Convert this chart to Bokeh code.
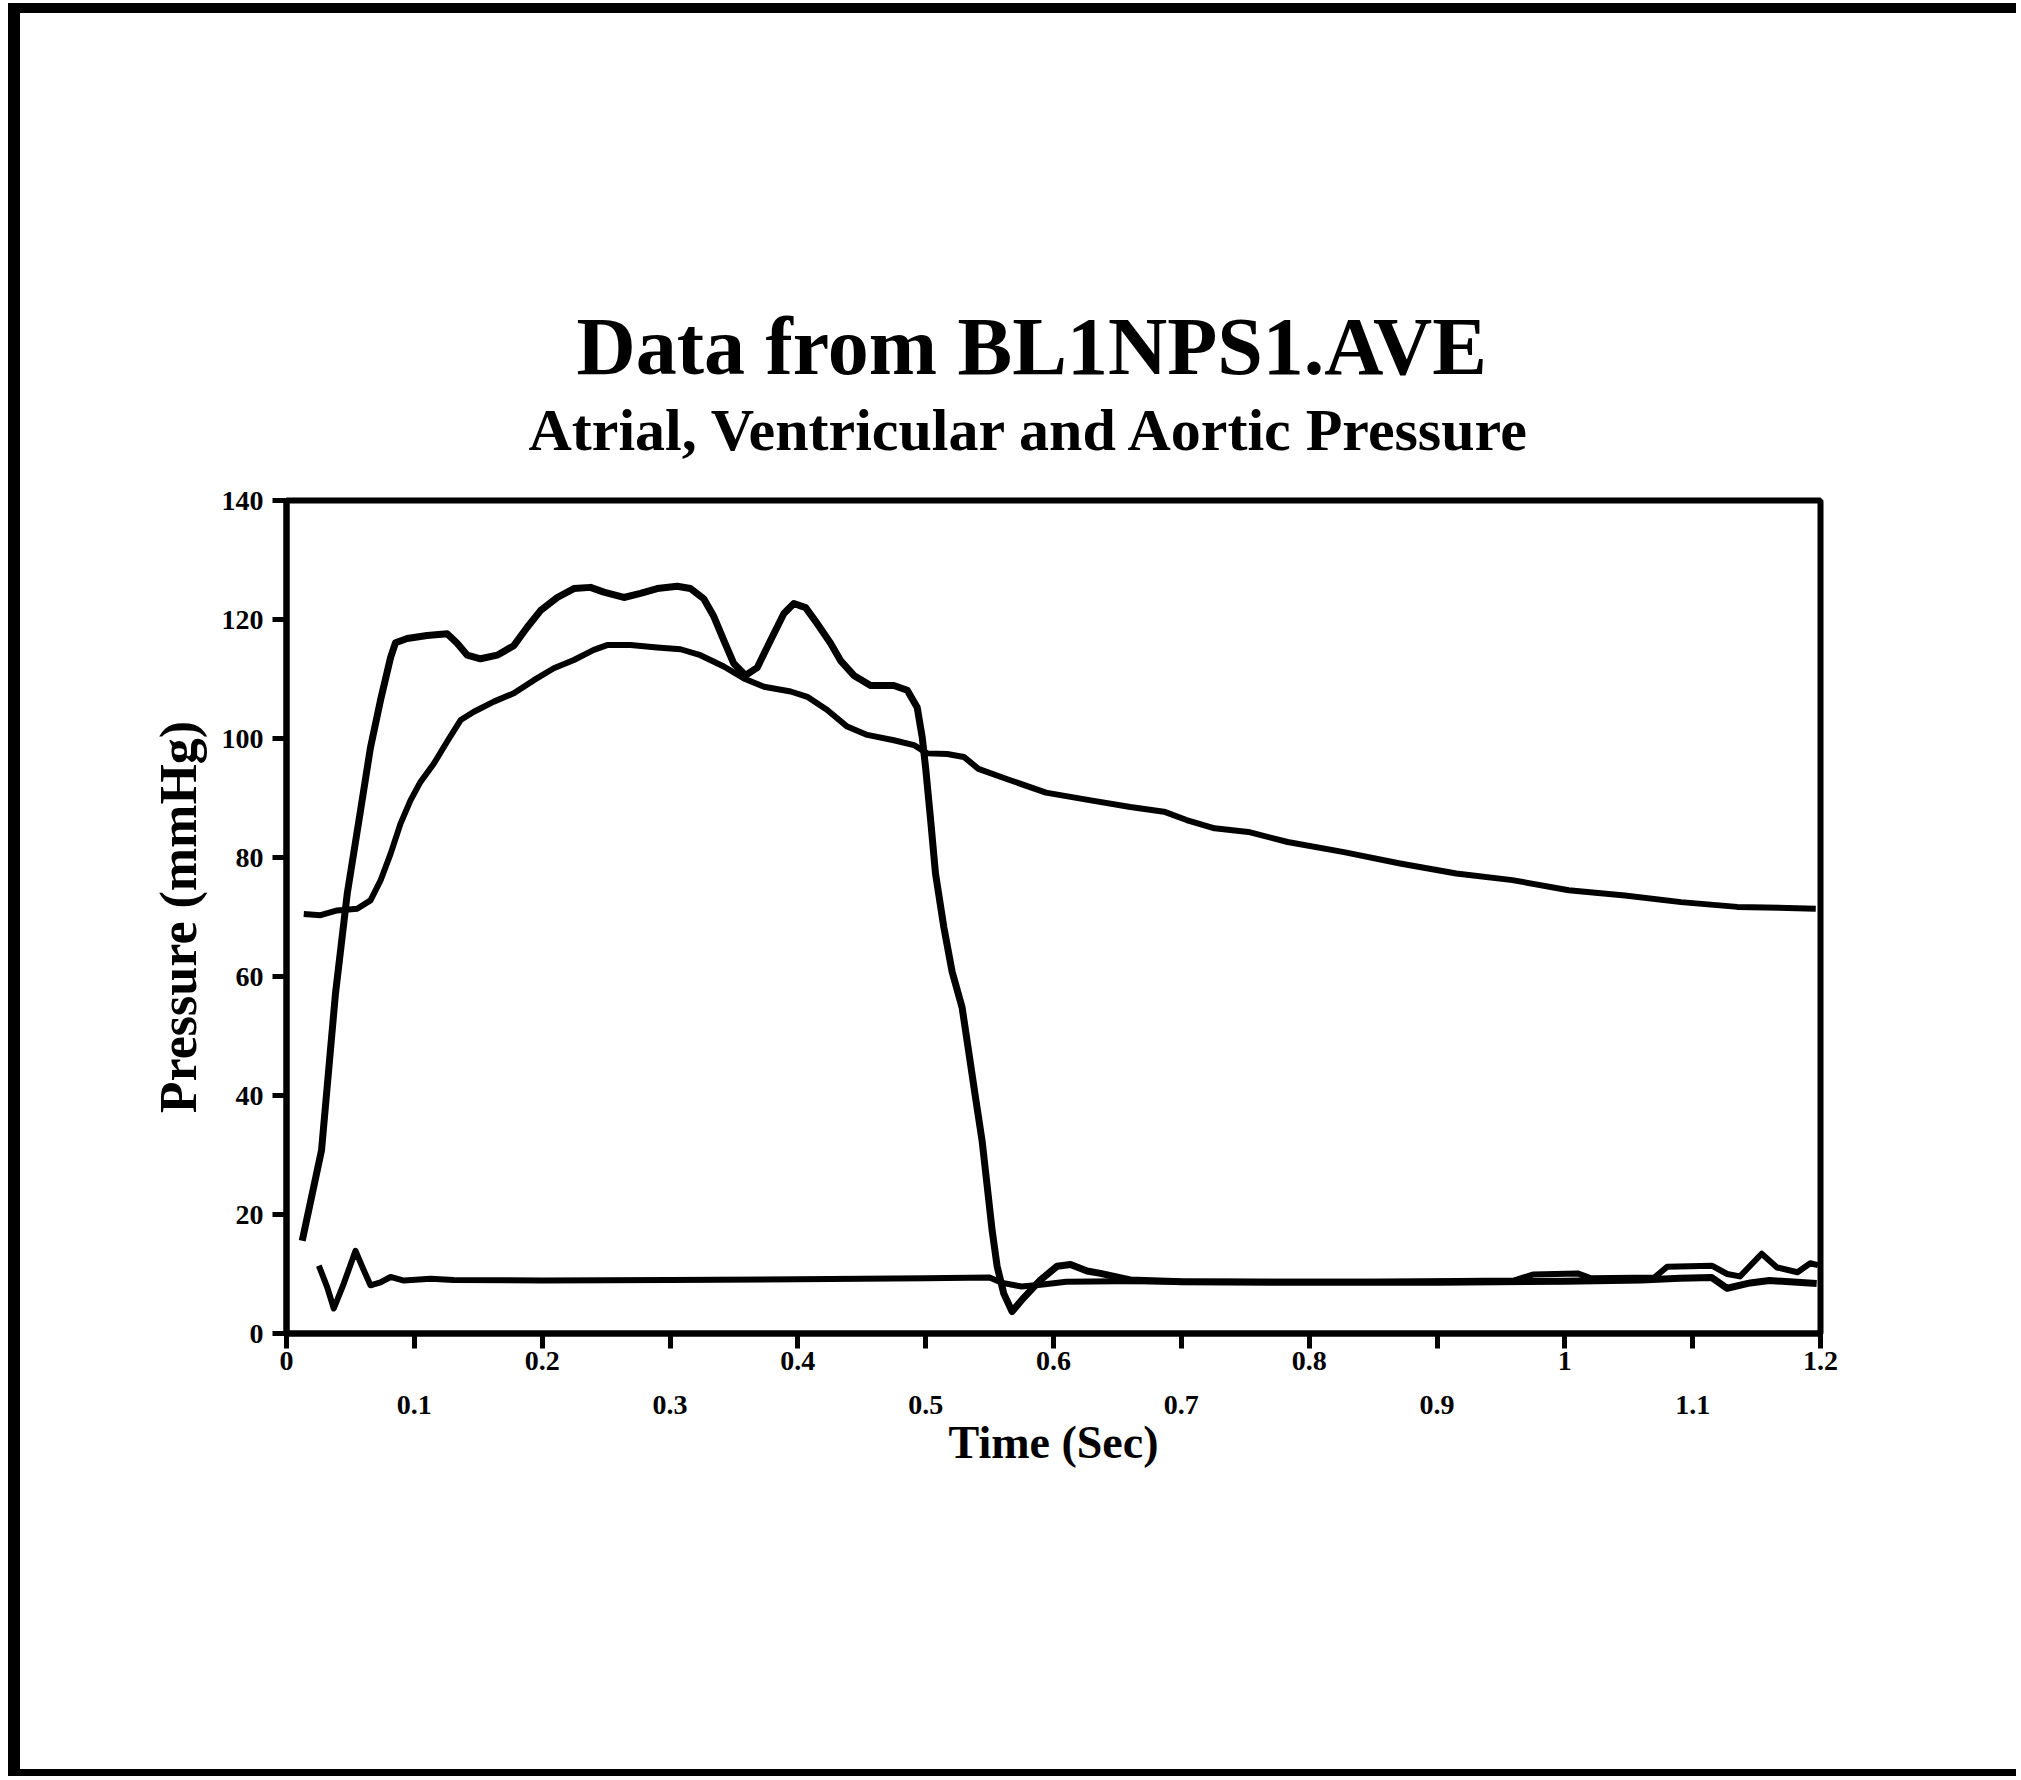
from bokeh.plotting import figure
from bokeh.layouts import column
from bokeh.models import LinearAxis, FixedTicker, Title, Range1d
from bokeh.embed import file_html
from bokeh.resources import INLINE

# ---------------- data ----------------
ventricular_time = [0.0123, 0.0274, 0.0383, 0.0475, 0.0579, 0.0657, 0.0735, 0.0814, 0.0853, 0.0944,
                    0.110, 0.1257, 0.1335, 0.1414, 0.1518, 0.1648, 0.1778, 0.1883, 0.1987, 0.2118,
                    0.2248, 0.2378, 0.2482, 0.2639, 0.2769, 0.2900, 0.3056, 0.3160, 0.3264, 0.3343,
                    0.3421, 0.3499, 0.3591, 0.3682, 0.3787, 0.3891, 0.3969, 0.4061, 0.4152, 0.4256,
                    0.4334, 0.4438, 0.4569, 0.4751, 0.4856, 0.4934, 0.4973, 0.5000, 0.5038, 0.5077,
                    0.5142, 0.5207, 0.5285, 0.5337, 0.5389, 0.5442, 0.5481, 0.5520, 0.5559, 0.5611,
                    0.5676, 0.5767, 0.5898, 0.6028, 0.6133, 0.6263, 0.6367, 0.66, 0.70, 0.80,
                    0.90, 1.00, 1.06, 1.09, 1.115, 1.127, 1.145, 1.16, 1.197]
ventricular_pressure = [15.6, 30.8, 57.1, 73.9, 87.9, 98.5, 106.4, 113.6, 116.1, 116.8,
                        117.3, 117.6, 116.0, 114.0, 113.4, 114.0, 115.6, 118.7, 121.5, 123.7,
                        125.2, 125.4, 124.6, 123.7, 124.4, 125.2, 125.6, 125.2, 123.5, 120.5,
                        116.5, 112.6, 110.6, 111.9, 116.5, 121.0, 122.7, 122.0, 119.3, 116.0,
                        113.1, 110.6, 108.9, 108.9, 108.1, 105.2, 100.2, 95.0, 86.5, 77.3,
                        68.3, 60.8, 54.8, 47.3, 39.8, 32.3, 24.8, 17.3, 11.3, 6.7,
                        3.7, 6.0, 9.0, 11.3, 11.6, 10.5, 10.1, 9.0, 8.7, 8.6,
                        8.6, 8.8, 9.0, 9.3, 9.4, 7.6, 8.5, 8.9, 8.4]

atrial_time = [0.0253, 0.0318, 0.0370, 0.0448, 0.0540, 0.0605, 0.0657, 0.0735, 0.0814, 0.0918,
               0.1127, 0.1307, 0.20, 0.30, 0.40, 0.50, 0.55, 0.56, 0.575, 0.59,
               0.61, 0.65, 0.75, 0.85, 0.96, 0.975, 1.01, 1.02, 1.07, 1.08,
               1.115, 1.127, 1.137, 1.154, 1.166, 1.182, 1.192, 1.198]
atrial_pressure = [11.4, 7.8, 4.2, 8.4, 13.9, 10.6, 8.1, 8.6, 9.5, 8.9,
                   9.2, 9.0, 8.9, 9.0, 9.1, 9.3, 9.4, 8.5, 7.9, 8.2,
                   8.7, 8.8, 8.7, 8.7, 8.9, 9.9, 10.1, 9.3, 9.4, 11.2,
                   11.4, 10.0, 9.6, 13.4, 11.1, 10.3, 11.8, 11.5]

aortic_time = [0.0135, 0.0266, 0.0397, 0.0553, 0.0657, 0.0735, 0.0814, 0.0892, 0.0970, 0.1048,
               0.1153, 0.1257, 0.1362, 0.1466, 0.1622, 0.1778, 0.1935, 0.2091, 0.2248, 0.2404,
               0.2508, 0.2691, 0.2900, 0.3082, 0.3238, 0.3421, 0.3578, 0.3735, 0.3944, 0.4074,
               0.4230, 0.4386, 0.4543, 0.4751, 0.4908, 0.5012, 0.5169, 0.5299, 0.5413, 0.5634,
               0.5941, 0.6292, 0.6601, 0.6864, 0.7041, 0.7260, 0.7524, 0.7832, 0.8272, 0.8711,
               0.9151, 0.9590, 1.0030, 1.0470, 1.0909, 1.1349, 1.1963]
aortic_pressure = [70.5, 70.3, 71.1, 71.4, 72.8, 76.1, 80.6, 85.7, 89.6, 92.7,
                   95.8, 99.5, 103.1, 104.5, 106.2, 107.6, 109.8, 111.8, 113.2, 114.9,
                   115.7, 115.7, 115.3, 115.0, 114.0, 112.1, 110.1, 108.7, 107.9, 107.0,
                   104.8, 102.0, 100.6, 99.7, 98.9, 97.5, 97.4, 96.9, 94.9, 93.2,
                   90.9, 89.6, 88.5, 87.7, 86.3, 84.9, 84.3, 82.6, 80.9, 79.0,
                   77.3, 76.2, 74.5, 73.6, 72.5, 71.7, 71.4]

x_ticks = [0, 0.1, 0.2, 0.3, 0.4, 0.5, 0.6, 0.7, 0.8, 0.9, 1, 1.1, 1.2]
x_tick_labels = ["0", "0.1", "0.2", "0.3", "0.4", "0.5", "0.6", "0.7", "0.8", "0.9", "1", "1.1", "1.2"]
y_ticks = [0, 20, 40, 60, 80, 100, 120, 140]

title_text = "Data from BL1NPS1.AVE"
subtitle_text = "Atrial, Ventricular and Aortic Pressure"
x_label = "Time (Sec)"
y_label = "Pressure (mmHg)"

FONT = "Liberation Serif"

# ---------------- figure ----------------
W, H = 1996, 1756
FL, FR, FT, FB = 266, 1800, 487, 1320   # frame edges on the canvas

p = figure(width=W, height=H, x_range=Range1d(0, 1.2), y_range=Range1d(0, 140),
           output_backend="svg", toolbar_location=None,
           min_border_left=FL, min_border_right=W - FR,
           min_border_top=FT, min_border_bottom=H - FB)
p.title.visible = False
p.grid.visible = False
p.background_fill_color = "white"
p.border_fill_color = "white"
p.outline_line_color = "black"
p.outline_line_width = 6

sub = Title(text=subtitle_text, align="left", offset=242, text_font=FONT, text_font_size="60px",
            text_font_style="bold", text_color="black", standoff=75)
main = Title(text=title_text, align="left", offset=290, text_font=FONT, text_font_size="82px",
             text_font_style="bold", text_color="black", standoff=-68)
p.add_layout(sub, "above")
p.add_layout(main, "above")

# lines
p.line(ventricular_time, ventricular_pressure, line_color="black", line_width=7, line_join="round")
p.line(aortic_time, aortic_pressure, line_color="black", line_width=6, line_join="round")
p.line(atrial_time, atrial_pressure, line_color="black", line_width=6, line_join="round")

# y axis
ya = p.yaxis[0]
ya.ticker = FixedTicker(ticks=y_ticks)
ya.axis_line_width = 6
ya.major_tick_line_width = 5
ya.major_tick_out = 14
ya.major_tick_in = 0
ya.minor_tick_line_color = None
ya.major_label_standoff = 9
ya.major_label_text_font = FONT
ya.major_label_text_font_size = "28px"
ya.major_label_text_font_style = "bold"
ya.major_label_text_color = "black"
ya.axis_label = y_label
ya.axis_label_text_font = FONT
ya.axis_label_text_font_size = "52px"
ya.axis_label_text_font_style = "bold"
ya.axis_label_text_color = "black"
ya.axis_label_standoff = 12

# x axis: even labels on the first row, odd labels on a second row
xa = p.xaxis[0]
xa.ticker = FixedTicker(ticks=x_ticks)
xa.major_label_overrides = {t: (lab if i % 2 == 0 else "") for i, (t, lab) in enumerate(zip(x_ticks, x_tick_labels))}
xa.axis_line_width = 6
xa.major_tick_line_width = 5
xa.major_tick_out = 15
xa.major_tick_in = 0
xa.minor_tick_line_color = None
xa.major_label_standoff = 3
xa.major_label_text_font = FONT
xa.major_label_text_font_size = "28px"
xa.major_label_text_font_style = "bold"
xa.major_label_text_color = "black"

odd_ticks = [t for i, t in enumerate(x_ticks) if i % 2 == 1]
xa2 = LinearAxis(ticker=FixedTicker(ticks=odd_ticks),
                 major_label_overrides={t: lab for i, (t, lab) in enumerate(zip(x_ticks, x_tick_labels)) if i % 2 == 1})
xa2.axis_line_color = None
xa2.major_tick_line_color = None
xa2.minor_tick_line_color = None
xa2.major_tick_out = 0
xa2.major_tick_in = 0
xa2.major_label_standoff = 23
xa2.major_label_text_font = FONT
xa2.major_label_text_font_size = "28px"
xa2.major_label_text_font_style = "bold"
xa2.major_label_text_color = "black"
xa2.axis_label = x_label
xa2.axis_label_text_font = FONT
xa2.axis_label_text_font_size = "46px"
xa2.axis_label_text_font_style = "bold"
xa2.axis_label_text_color = "black"
xa2.axis_label_standoff = 0
p.add_layout(xa2, "below")

# page frame of the scanned sheet (thick black edges top, left, bottom)
page = column(p, styles={"margin-left": "8px", "margin-top": "3px",
                         "border-left": "12px solid black",
                         "border-top": "10px solid black",
                         "border-bottom": "7px solid black"})

open("out.html", "w").write(file_html(page, INLINE))
